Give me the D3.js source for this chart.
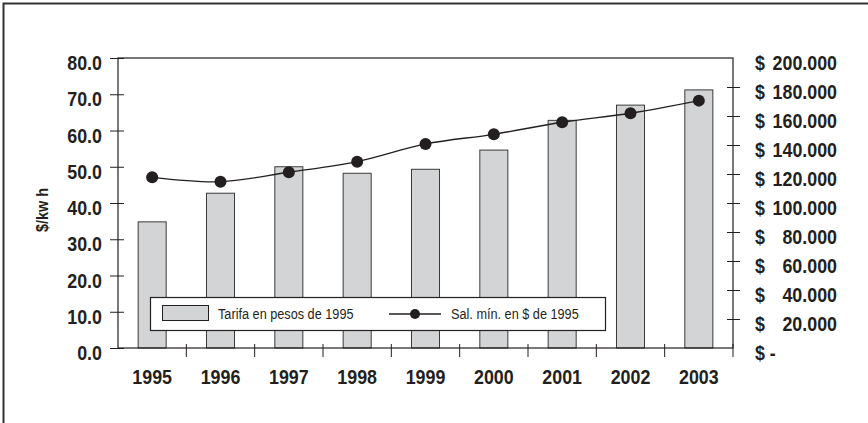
<!DOCTYPE html>
<html>
<head>
<meta charset="utf-8">
<script src="https://cdn.jsdelivr.net/npm/d3@7"></script>
<style>
  body { margin: 0; background: #fff; }
  svg text { font-family: "Liberation Sans", Arial, sans-serif; fill: #231f20; }
</style>
</head>
<body>
<div id="chart"></div>
<script>
// data
var years = ["1995", "1996", "1997", "1998", "1999", "2000", "2001", "2002", "2003"];
// tarifa en pesos de 1995, $/kw h (left axis)
var tarifa = [34.8, 42.7, 50.0, 48.2, 49.3, 54.6, 62.8, 67.0, 71.2];
// salario minimo en $ de 1995, thousands (right axis)
var salMin = [117.7, 114.7, 121.2, 128.5, 140.7, 147.4, 155.7, 161.9, 170.6];
var leftTicks = [0, 10, 20, 30, 40, 50, 60, 70, 80];
var rightTicks = [0, 20, 40, 60, 80, 100, 120, 140, 160, 180, 200];
var legendLabels = ["Tarifa en pesos de 1995", "Sal. m\u00edn. en $ de 1995"];

var W = 868, H = 423;
var plot = {left: 118, right: 733, top: 58, bottom: 348};

var svg = d3.select("#chart")
   .append("svg")
   .attr("width", W)
   .attr("height", H);

//no condensed font around, so squeeze the text sideways
function ctext(g, px, py, str, size, weight, anchor, rot, sx) {
  return g.append("text")
     .attr("transform", "translate(" + px + "," + py + ")" + (rot ? " rotate(" + rot + ")" : "") + " scale(" + (sx || 0.85) + ",1)")
     .attr("text-anchor", anchor || "start")
     .text(str)
     .style("font-size", size + "px")
     .style("font-weight", weight);
}

//outer frame, only top and left are visible
svg.append("path")
   .attr("d", "M3.5," + H + "V3.5H" + W)
   .style("fill", "none")
   .style("stroke", "#333")
   .style("stroke-width", 2);

var x = d3.scaleBand()
   .domain(years)
   .range([plot.left, plot.right])
   .padding(0);

var yL = d3.scaleLinear()
   .domain([0, 80])
   .range([plot.bottom, plot.top]);

var yR = d3.scaleLinear()
   .domain([0, 200])
   .range([plot.bottom, plot.top]);

var barW = x.bandwidth() * 0.41;

//bars
svg.selectAll(".bar")
   .data(tarifa)
   .enter()
   .append("rect")
   .attr("class", "bar")
   .attr("x", function(d, i) { return x(years[i]) + (x.bandwidth() - barW) / 2; })
   .attr("y", function(d) { return yL(d); })
   .attr("width", barW)
   .attr("height", function(d) { return yL(0) - yL(d); })
   .style("fill", "#d3d4d6")
   .style("stroke", "#3a3a3a")
   .style("stroke-width", 1);

//plot frame
svg.append("rect")
   .attr("x", plot.left)
   .attr("y", plot.top)
   .attr("width", plot.right - plot.left)
   .attr("height", plot.bottom - plot.top)
   .style("fill", "none")
   .style("stroke", "#231f20")
   .style("stroke-width", 1.2);

//left axis, crossing ticks
var gL = svg.append("g")
   .attr("transform", "translate(" + plot.left + ",0)")
   .call(d3.axisLeft(yL).tickValues(leftTicks).tickSize(8).tickFormat(""));
gL.select(".domain").remove();
gL.selectAll(".tick line").attr("x1", 6).attr("x2", -8).style("stroke", "#231f20");
leftTicks.forEach(function(v) {
  ctext(svg, 102, yL(v) + 12, d3.format(".1f")(v), 21, "bold", "end");
});

//right axis, ticks only, labels drawn by hand for the "$" column
var gR = svg.append("g")
   .attr("transform", "translate(" + plot.right + ",0)")
   .call(d3.axisRight(yR).tickValues(rightTicks.slice(1, -1)).tickSize(7).tickFormat(""));
gR.select(".domain").remove();
gR.selectAll(".tick line").attr("x1", -6).attr("x2", 7).style("stroke", "#231f20");

rightTicks.forEach(function(v) {
  var yy = yR(v) + 12;
  ctext(svg, 755, yy, v == 0 ? "$ -" : "$", 21, "bold", "start");
  if (v > 0) {
    ctext(svg, 837, yy, v + ".000", 21, "bold", "end");
  }
});

//bottom axis, ticks between categories
var gB = svg.append("g")
   .attr("transform", "translate(0," + plot.bottom + ")");
gB.selectAll("line")
   .data(years.slice(1).concat(["end"]))
   .enter()
   .append("line")
   .attr("x1", function(d) { return d == "end" ? plot.right : x(d); })
   .attr("x2", function(d) { return d == "end" ? plot.right : x(d); })
   .attr("y1", -4)
   .attr("y2", 9)
   .style("stroke", "#231f20");
years.forEach(function(d) {
  ctext(gB, x(d) + x.bandwidth() / 2, 36, d, 21, "bold", "middle");
});

//axis title
ctext(svg, 48, 210, "$/kw h", 17, "bold", "middle", -90);

//salary line, smoothed like excel
var line = d3.line()
   .x(function(d, i) { return x(years[i]) + x.bandwidth() / 2; })
   .y(function(d) { return yR(d); })
   .curve(d3.curveCardinal.tension(0));

svg.append("path")
   .datum(salMin)
   .attr("d", line)
   .style("fill", "none")
   .style("stroke", "#231f20")
   .style("stroke-width", 1.3);

svg.selectAll(".dot")
   .data(salMin)
   .enter()
   .append("circle")
   .attr("class", "dot")
   .attr("cx", function(d, i) { return x(years[i]) + x.bandwidth() / 2; })
   .attr("cy", function(d) { return yR(d); })
   .attr("r", 6)
   .style("fill", "#231f20");

//legend
var gLeg = svg.append("g");
gLeg.append("rect")
   .attr("x", 150.5)
   .attr("y", 297.5)
   .attr("width", 455)
   .attr("height", 33)
   .style("fill", "#fff")
   .style("stroke", "#231f20")
   .style("stroke-width", 1.2);
gLeg.append("rect")
   .attr("x", 162.5)
   .attr("y", 305.5)
   .attr("width", 46)
   .attr("height", 15)
   .style("fill", "#d3d4d6")
   .style("stroke", "#231f20");
ctext(gLeg, 218, 319, legendLabels[0], 15.5, "normal", "start", 0, 0.82);
gLeg.append("line")
   .attr("x1", 389).attr("x2", 441)
   .attr("y1", 314).attr("y2", 314)
   .style("stroke", "#231f20")
   .style("stroke-width", 1.3);
gLeg.append("circle")
   .attr("cx", 415)
   .attr("cy", 314)
   .attr("r", 5)
   .style("fill", "#231f20");
ctext(gLeg, 451, 319, legendLabels[1], 15.5, "normal", "start", 0, 0.82);
</script>
</body>
</html>
